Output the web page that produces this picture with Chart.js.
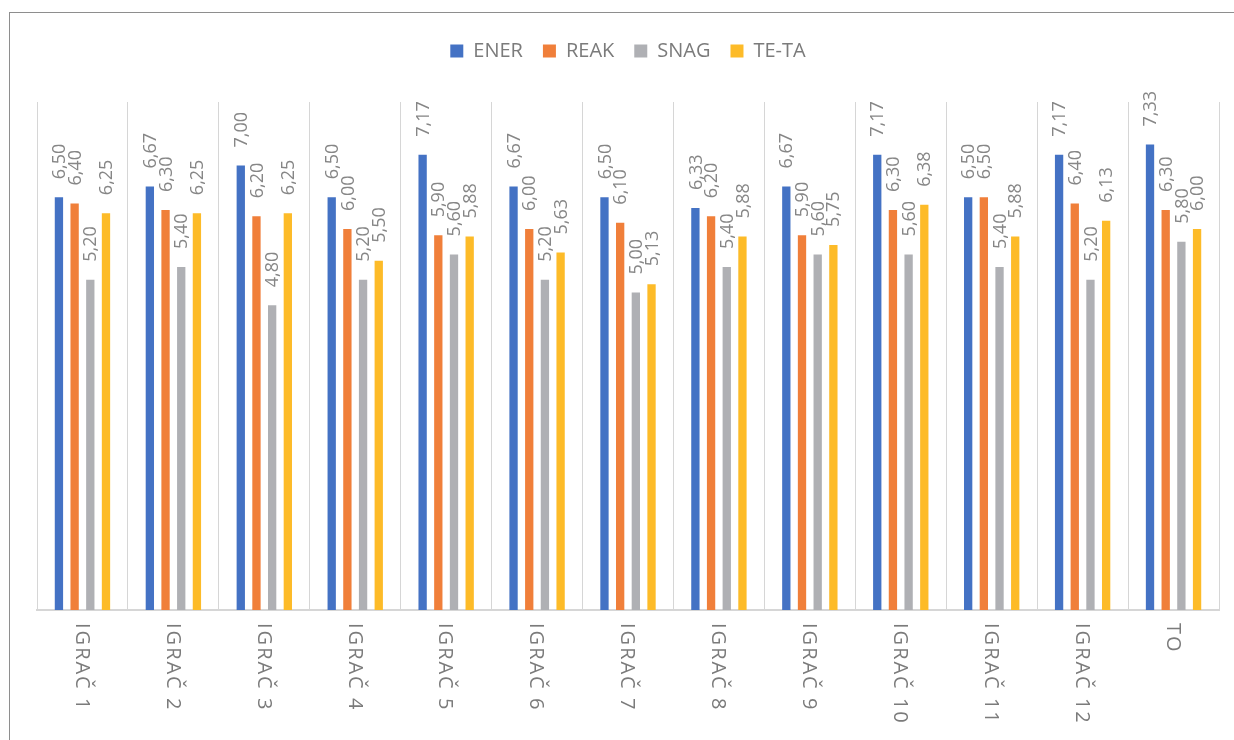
<!DOCTYPE html>
<html>
<head>
<meta charset="utf-8">
<script src="https://cdn.jsdelivr.net/npm/chart.js@4/dist/chart.umd.min.js"></script>
<style>
  html, body { margin: 0; padding: 0; background: #fff; overflow: hidden; }
  #wrap { position: absolute; left: 0; top: 0; width: 1234px; height: 740px; }
  #frame { position: absolute; left: 9px; top: 12px; width: 1240px; height: 740px;
           border-left: 1px solid #8e8e8e; border-top: 1px solid #8e8e8e; box-sizing: border-box; }
  canvas { position: absolute; left: 0; top: 0; }
</style>
</head>
<body>
<div id="wrap">
  <div id="frame"></div>
  <canvas id="c" width="1234" height="740"></canvas>
</div>
<script>
// Players and the team average
const categories = ['IGRAČ 1', 'IGRAČ 2', 'IGRAČ 3', 'IGRAČ 4', 'IGRAČ 5', 'IGRAČ 6',
                    'IGRAČ 7', 'IGRAČ 8', 'IGRAČ 9', 'IGRAČ 10', 'IGRAČ 11', 'IGRAČ 12', 'TO'];

// Scores per attribute
const ener = [6.50, 6.67, 7.00, 6.50, 7.17, 6.67, 6.50, 6.33, 6.67, 7.17, 6.50, 7.17, 7.33];
const reak = [6.40, 6.30, 6.20, 6.00, 5.90, 6.00, 6.10, 6.20, 5.90, 6.30, 6.50, 6.40, 6.30];
const snag = [5.20, 5.40, 4.80, 5.20, 5.60, 5.20, 5.00, 5.40, 5.60, 5.60, 5.40, 5.20, 5.80];
const teta = [6.25, 6.25, 6.25, 5.50, 5.88, 5.63, 5.13, 5.88, 5.75, 6.38, 5.88, 6.13, 6.00];

const seriesNames = ['ENER', 'REAK', 'SNAG', 'TE-TA'];
const seriesColors = ['#4472C4', '#F07F3A', '#AFB0B4', '#FDBB28'];

const fmt = v => v.toFixed(2).replace('.', ',');
const FONT = '"Open Sans", "DejaVu Sans", sans-serif';

// Extra space between the legend and the plot
const legendGap = {
  id: 'legendGap',
  beforeInit(chart) {
    const legend = chart.legend;
    const fit = legend.fit;
    legend.fit = function () {
      fit.call(this);
      this.height += 31;
    };
  }
};

// Rotated value labels above each bar
const valueLabels = {
  id: 'valueLabels',
  afterDatasetsDraw(chart) {
    const ctx = chart.ctx;
    ctx.save();
    ctx.font = '18px ' + FONT;
    ctx.fillStyle = '#868686';
    ctx.textAlign = 'left';
    ctx.textBaseline = 'middle';
    chart.data.datasets.forEach((ds, di) => {
      chart.getDatasetMeta(di).data.forEach((bar, i) => {
        ctx.save();
        ctx.translate(bar.x + 1, bar.y - 18);
        ctx.rotate(-Math.PI / 2);
        ctx.fillText(fmt(ds.data[i]), 0, 0);
        ctx.restore();
      });
    });
    ctx.restore();
  }
};

// Category names written downward under the axis
const categoryLabels = {
  id: 'categoryLabels',
  afterDraw(chart) {
    const ctx = chart.ctx;
    const xs = chart.scales.x;
    ctx.save();
    ctx.font = '20px ' + FONT;
    ctx.letterSpacing = '2px';
    ctx.fillStyle = '#7b7b7b';
    ctx.textAlign = 'left';
    ctx.textBaseline = 'middle';
    categories.forEach((lab, i) => {
      ctx.save();
      ctx.translate(xs.getPixelForTick(i) - 1, xs.bottom + 13);
      ctx.rotate(Math.PI / 2);
      ctx.fillText(lab, 0, 0);
      ctx.restore();
    });
    ctx.restore();
  }
};

const datasets = [ener, reak, snag, teta].map((d, i) => ({
  label: seriesNames[i],
  data: d,
  backgroundColor: seriesColors[i],
  borderWidth: 0,
  categoryPercentage: 0.69,
  barPercentage: 0.53
}));

new Chart(document.getElementById('c'), {
  type: 'bar',
  data: { labels: categories, datasets },
  plugins: [legendGap, valueLabels, categoryLabels],
  options: {
    responsive: false,
    animation: false,
    layout: { padding: { left: 37, right: 15, top: 21, bottom: 130 } },
    plugins: {
      tooltip: { enabled: false },
      legend: {
        position: 'top',
        labels: {
          boxWidth: 13,
          boxHeight: 13,
          padding: 20,
          color: '#7b7b7b',
          font: { family: FONT, size: 20 }
        }
      }
    },
    scales: {
      x: {
        offset: true,
        ticks: { display: false },
        grid: { offset: true, color: '#d6d6d6', lineWidth: 1, drawTicks: false },
        border: { display: true, color: '#d6d6d6', width: 2 }
      },
      y: {
        display: false,
        min: 0,
        max: 8
      }
    }
  }
});
</script>
</body>
</html>
